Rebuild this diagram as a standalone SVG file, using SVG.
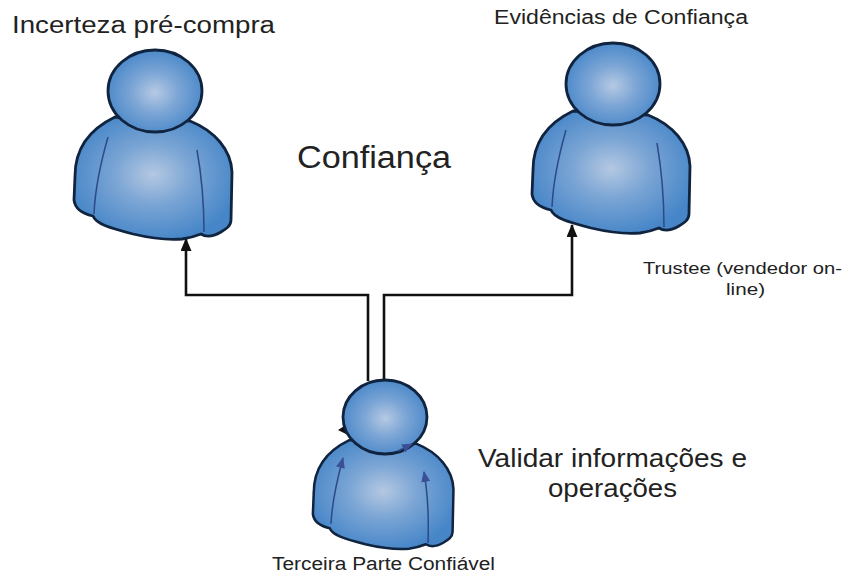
<svg xmlns="http://www.w3.org/2000/svg" xmlns:xlink="http://www.w3.org/1999/xlink" width="850" height="576" viewBox="0 0 850 576">
<style>
text{font-family:"Liberation Sans",Arial,sans-serif;fill:#222}
.o{stroke:#10233f;stroke-width:2.8;stroke-linejoin:round}
.b{fill:url(#gb)}
.h{fill:url(#gh)}
.i{fill:none;stroke:#2c4a86;stroke-width:1.5}
.c{fill:none;stroke:#111;stroke-width:2.6}
</style>
<defs>
<radialGradient id="gh" cx="0.5" cy="0.52" r="0.56"><stop offset="0" stop-color="#b6c9e3"/><stop offset="0.45" stop-color="#7ba5d5"/><stop offset="1" stop-color="#4585c8"/></radialGradient>
<radialGradient id="gb" cx="0.5" cy="0.47" r="0.56"><stop offset="0" stop-color="#b4c8e2"/><stop offset="0.45" stop-color="#79a4d4"/><stop offset="1" stop-color="#4585c8"/></radialGradient>
<marker id="ah" markerUnits="userSpaceOnUse" markerWidth="13" markerHeight="14" refX="12" refY="5.5" orient="auto"><path d="M0 0L13 5.5L0 11z" fill="#111"/></marker>
<marker id="ai" markerUnits="userSpaceOnUse" markerWidth="12" markerHeight="10" refX="10" refY="4.5" orient="auto"><path d="M0 0L11 4.5L0 9z" fill="#3a4f96"/></marker>
<path id="body" class="o b" d="M115 117C90 129 75 148 75 176L74 200C75 208 80 213 93 216C96 224 110 228 133 234C150 238 170 240 182 239C190 238 196 236 201 234C207 238 214 236 221 232C226 229 231 226 231 220L232 172C231 150 215 131 190 121Z"/>
</defs>
<g id="connectors">
<path class="c" d="M368 381V295H186V239" marker-end="url(#ah)"/>
<path class="c" d="M384 381V295H572V225" marker-end="url(#ah)"/>
</g>
<g id="person-left">
<use href="#body"/>
<path class="i" d="M108 137C100 165 95 190 94 214"/>
<path class="i" d="M197 150C202 178 204 205 204 232"/>
<ellipse class="o h" cx="155" cy="91" rx="47" ry="41"/>
</g>
<g id="person-right">
<use href="#body" transform="translate(458 -6)"/>
<path class="i" d="M566 130C558 158 553 185 552 207"/>
<path class="i" d="M657 143C662 172 664 200 664 227"/>
<ellipse class="o h" cx="613" cy="84" rx="47" ry="41"/>
</g>
<g id="person-bottom">
<path d="M338 430L349 423L354 438Z" fill="#111"/>
<use href="#body" transform="translate(247 336) scale(.89)"/>
<path class="i" d="M331 524C332 500 337 480 343 458" marker-end="url(#ai)"/>
<path class="i" d="M428 543C429 515 428 495 424 472" marker-end="url(#ai)"/>
<ellipse class="o h" cx="385" cy="417" rx="42" ry="37"/>
<path class="i" d="M398 451L412 444" marker-end="url(#ai)"/>
</g>
<g id="labels">
<text x="12" y="33" font-size="23" textLength="263" lengthAdjust="spacingAndGlyphs">Incerteza pré-compra</text>
<text x="494" y="24" font-size="20" textLength="254" lengthAdjust="spacingAndGlyphs">Evidências de Confiança</text>
<text x="297" y="168" font-size="31" textLength="154" lengthAdjust="spacingAndGlyphs">Confiança</text>
<text x="643" y="274" font-size="17" textLength="199" lengthAdjust="spacingAndGlyphs">Trustee (vendedor on-</text>
<text x="726" y="295" font-size="17" textLength="39" lengthAdjust="spacingAndGlyphs">line)</text>
<text x="478" y="467" font-size="25" textLength="269" lengthAdjust="spacingAndGlyphs">Validar informações e</text>
<text x="548" y="497" font-size="25" textLength="129" lengthAdjust="spacingAndGlyphs">operações</text>
<text x="272" y="570" font-size="18" textLength="223" lengthAdjust="spacingAndGlyphs">Terceira Parte Confiável</text>
</g>
</svg>
